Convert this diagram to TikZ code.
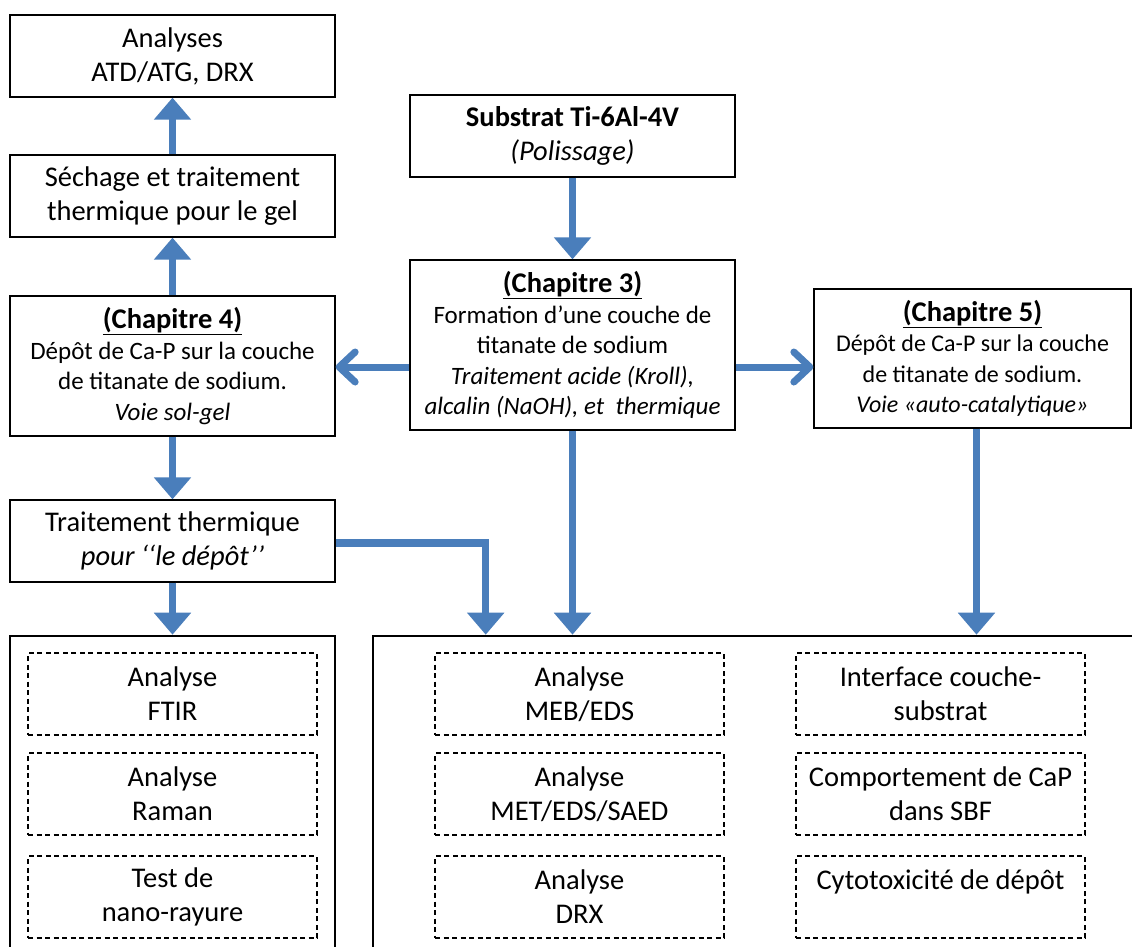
\documentclass[tikz,border=0pt]{standalone}
\usepackage{fontspec}
\setmainfont{Carlito}
\usepackage{xcolor}
\definecolor{bleuFleche}{HTML}{4A7EBB}
\usepackage{tikz}
\usetikzlibrary{arrows.meta,calc}
\newcommand{\titreChap}[1]{{\fontsize{28.5}{30.5}\selectfont\textbf{\underline{#1}}}}

\begin{document}
\begin{tikzpicture}[x=1pt,y=-1pt,
 box/.style={draw,line width=1.3pt,minimum width=325pt,minimum height=82pt,
 inner sep=0pt,align=center,font=\fontsize{28.5}{34}\selectfont},
 chap/.style={box,font=\fontsize{25}{30.5}\selectfont},
 cont/.style={draw,line width=2.6pt,inner sep=0pt},
 essai/.style={draw,dash pattern=on 5pt off 3.5pt,line width=1.3pt,minimum width=289pt,minimum height=82pt,
 inner sep=0pt,align=center,font=\fontsize{28.5}{34}\selectfont},
 arr/.style={-{Triangle[length=22pt,width=36pt]},line width=7.5pt,draw=bleuFleche},
 barb/.style={-{Straight Barb[length=16pt,width=30pt,round]},line width=7pt,draw=bleuFleche}]
 \useasboundingbox (0,0) rectangle (1132,946);
 \clip (0,0) rectangle (1132,946);
 % colonne gauche
 \node[box] (ana) at (172.5,56) {Analyses\\ATD/ATG, DRX};
 \node[box] (sech) at (172.5,196) {Séchage et traitement\\thermique pour le gel};
 \node[chap,minimum height=140pt] (ch4) at (172.5,366) {\titreChap{(Chapitre 4)}\\
 Dépôt de Ca-P sur la couche\\de titanate de sodium.\\\textit{Voie sol-gel}};
 \node[box] (tt) at (172.5,541) {Traitement thermique\\\textit{pour ‘‘le dépôt’’}};
 % colonne centrale et droite
 \node[box] (sub) at (572.5,136) {\textbf{Substrat Ti-6Al-4V}\\\textit{(Polissage)}};
 \node[chap,minimum height=170pt] (ch3) at (572.5,345) {\titreChap{(Chapitre 3)}\\
 Formation d’une couche de\\titanate de sodium\\\textit{Traitement acide (Kroll),}\\
 \textit{alcalin (NaOH), et\ \ thermique}};
 \node[chap,minimum width=317pt,minimum height=139pt,font=\fontsize{24}{30.5}\selectfont] (ch5) at (972.5,358.5)
 {\titreChap{(Chapitre 5)}\\
 Dépôt de Ca-P sur la couche\\de titanate de sodium.\\\textit{Voie «auto-catalytique»}};
 % cadres des caracterisations
 \node[cont,minimum width=325pt,minimum height=334pt] (contL) at (172.5,803) {};
 \node[cont,minimum width=777pt,minimum height=334pt] (contR) at (761.5,803) {};
 \node[essai] (ftir) at (172.5,694) {Analyse\\FTIR};
 \node[essai] (raman) at (172.5,794) {Analyse\\Raman};
 \node[essai] (rayure) at (172.5,897) {Test de\\nano-rayure};
 \node[essai] (meb) at (579.5,694) {Analyse\\MEB/EDS};
 \node[essai] (met) at (579.5,794) {Analyse\\MET/EDS/SAED};
 \node[essai] (drx) at (579.5,897) {Analyse\\DRX};
 \node[essai] (interf) at (940.5,694) {Interface couche-\\substrat};
 \node[essai] (sbf) at (940.5,794) {Comportement de CaP\\dans SBF};
 \node[essai] (cyto) at (940.5,897) {Cytotoxicité de dépôt\\\phantom{X}};
 % fleches
 \draw[arr] (sech.north)--(ana.south);
 \draw[arr] (ch4.north)--(sech.south);
 \draw[arr] (ch4.south)--(tt.north);
 \draw[arr] (tt.south)--(contL.north);
 \draw[arr] ($(tt.east)+(0,2)$)-|($(contR.north west)+(114,0)$);
 \draw[arr] (sub.south)--(ch3.north);
 \draw[arr] (ch3.south)--(ch3.south |- contR.north);
 \draw[arr] ($(ch5.south)+(4,0)$)--($(ch5.south |- contR.north)+(4,0)$);
 \draw[barb] ($(ch3.west)+(0,22)$)--($(ch4.east |- ch3.west)+(0,22)$);
 \draw[barb] ($(ch3.east)+(0,22)$)--($(ch5.west |- ch3.east)+(0,22)$);
\end{tikzpicture}
\end{document}
